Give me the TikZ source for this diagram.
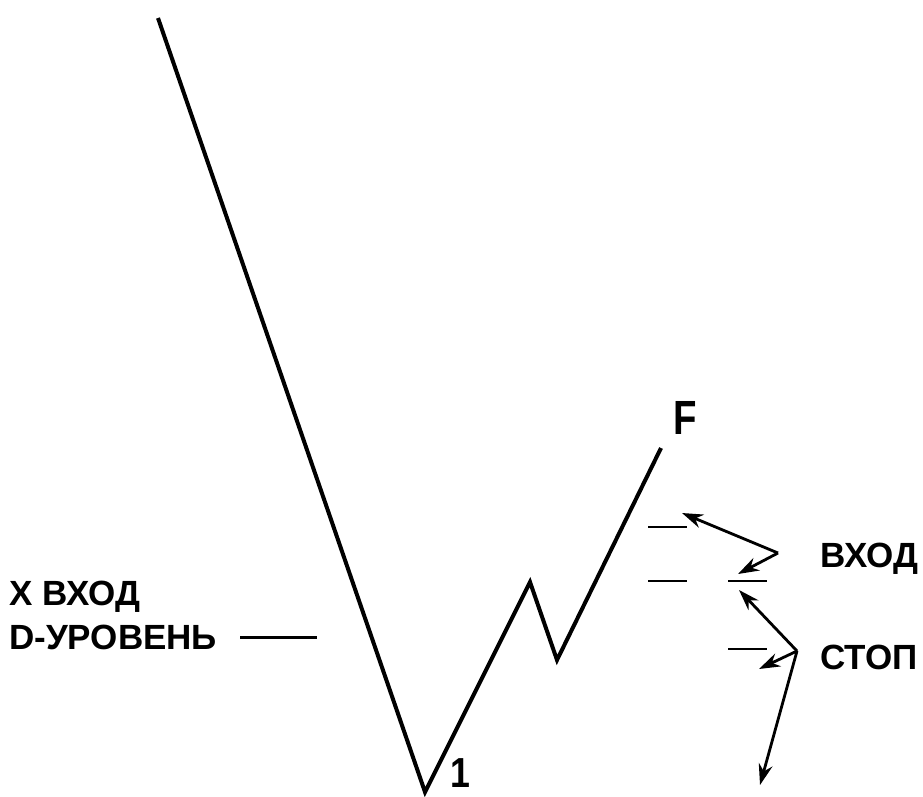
\documentclass[tikz,border=0pt]{standalone}
\usepackage{fontspec}
\setmainfont{Liberation Sans}
\usetikzlibrary{arrows.meta}
\begin{document}
\begin{tikzpicture}[x=1pt,y=-1pt,
  wave/.style={line width=4pt,line join=miter},
  level/.style={line width=1.6pt},
  pointer/.style={line width=2.8pt,-{Stealth[length=21pt,width=14pt]}},
  lbl/.style={font=\fontsize{35}{40}\selectfont\bfseries,inner sep=0pt,anchor=base west},
]
\useasboundingbox (0,0) rectangle (923,796);
% wave
\coordinate (p0) at (158,18);
\coordinate (p1) at (425,792);
\coordinate (p2) at (530,582);
\coordinate (p3) at (557,660);
\coordinate (p4) at (661,448);
\draw[wave] (p0) -- (p1) -- (p2) -- (p3) -- (p4);
% labels on wave
\node[lbl,font=\fontsize{48}{52}\selectfont\bfseries,xscale=0.8] (F) at (673,434) {F};
\node[lbl,font=\fontsize{42}{46}\selectfont\bfseries,xscale=0.85] (one) at (450,787) {1};
% levels
\draw[level] (648,527) -- (687,527);
\draw[level] (648,581) -- (687,581);
\draw[level] (728,581) -- (767,581);
\draw[level] (728,649) -- (767,649);
% left labels
\node[lbl] (xentry) at (9,605) {X ВХОД};
\node[lbl] (dlevel) at (9,649) {D-УРОВЕНЬ};
\draw[line width=3pt] (240,637) coordinate (dl1) -- (317,637) coordinate (dl2);
% right labels
\node[lbl] (entry) at (820,567) {ВХОД};
\node[lbl] (stop) at (820,669) {СТОП};
% pointers
\coordinate (v1) at (778,553);
\coordinate (t1) at (682,513);
\coordinate (t2) at (738,574);
\draw[pointer] (v1) -- (t1);
\draw[pointer] (v1) -- (t2);
\coordinate (v2) at (797,651);
\coordinate (s1) at (739,590);
\coordinate (s2) at (759,669);
\coordinate (s3) at (760,785);
\draw[pointer] (v2) -- (s1);
\draw[pointer] (v2) -- (s2);
\draw[pointer] (v2) -- (s3);
\end{tikzpicture}
\end{document}
